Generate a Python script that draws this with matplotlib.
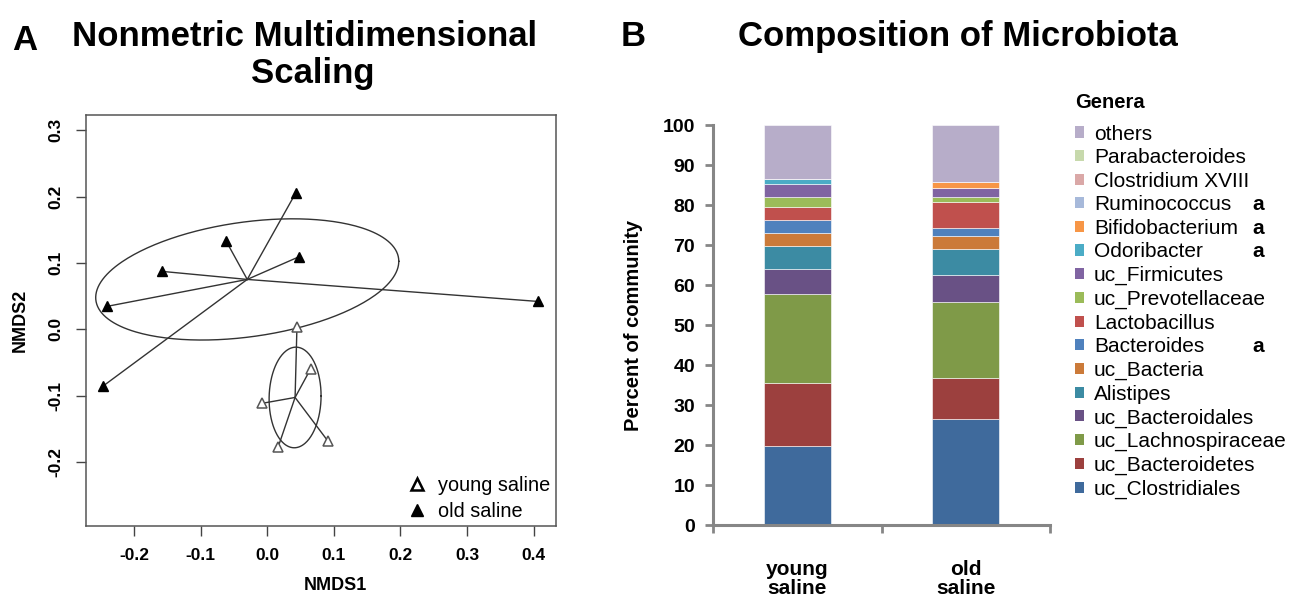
import numpy as np
import matplotlib
matplotlib.use('Agg')
import matplotlib.pyplot as plt
from matplotlib.patches import Patch
from matplotlib.lines import Line2D

plt.rcParams['font.family'] = ['Liberation Sans', 'DejaVu Sans']

# ---------------- Panel A data (NMDS scores) ----------------
young_x = [0.0446, 0.065, -0.008, 0.0165, 0.091]
young_y = [0.0035, -0.0598, -0.1114, -0.1768, -0.168]
old_x = [0.0426, -0.062, 0.047, -0.158, -0.2407, 0.407, -0.246]
old_y = [0.205, 0.1334, 0.109, 0.0873, 0.0346, 0.042, -0.085]
nmds_xticks = [-0.2, -0.1, 0.0, 0.1, 0.2, 0.3, 0.4]
nmds_yticks = [-0.2, -0.1, 0.0, 0.1, 0.2, 0.3]
group_labels = ['young saline', 'old saline']

# ---------------- Panel B data (percent of community) ----------------
groups = ['young\nsaline', 'old\nsaline']
genera = ['uc_Clostridiales', 'uc_Bacteroidetes', 'uc_Lachnospiraceae',
          'uc_Bacteroidales', 'Alistipes', 'uc_Bacteria', 'Bacteroides',
          'Lactobacillus', 'uc_Prevotellaceae', 'uc_Firmicutes', 'Odoribacter',
          'Bifidobacterium', 'Ruminococcus', 'Clostridium XVIII',
          'Parabacteroides', 'others']
young_pct = [19.7, 15.9, 22.2, 6.2, 5.7, 3.2, 3.3, 3.2, 2.7, 3.2, 1.2,
             0.0, 0.0, 0.0, 0.0, 13.5]
old_pct = [26.4, 10.4, 19.0, 6.8, 6.5, 3.2, 2.0, 6.45, 1.35, 2.15, 0.0,
           1.6, 0.0, 0.0, 0.0, 14.15]
genus_colors = ['#3F6A9C', '#9C403E', '#7F9A48', '#695185', '#3C8BA3',
                '#CB7A39', '#4F81BD', '#C0504D', '#9BBB59', '#8064A2',
                '#4BACC6', '#F79646', '#A7B9DA', '#DAA8A7', '#C7D9AC',
                '#B7ADC9']
sig_genera = ['Ruminococcus', 'Bifidobacterium', 'Odoribacter', 'Bacteroides']
pct_ticks = list(range(0, 101, 10))

W, H = 1299, 602
fig = plt.figure(figsize=(W / 100, H / 100), dpi=100)


def fx(px):
    return px / W


def fy(py):
    return 1 - py / H


# ================= Panel A =================
axA = fig.add_axes([fx(86), fy(526), fx(555.7) - fx(86), fy(115) - fy(526)])
line_col = '#333333'
for xs, ys, filled in [(old_x, old_y, True), (young_x, young_y, False)]:
    xs = np.asarray(xs)
    ys = np.asarray(ys)
    cx, cy = xs.mean(), ys.mean()
    for xi, yi in zip(xs, ys):
        axA.plot([cx, xi], [cy, yi], color=line_col, lw=1.0, zorder=2)
    cov = np.cov(np.vstack([xs, ys]))
    L = np.linalg.cholesky(cov)
    t = np.linspace(0, 2 * np.pi, 300)
    ell = L @ np.vstack([np.cos(t), np.sin(t)])
    axA.plot(cx + ell[0], cy + ell[1], color=line_col, lw=1.0, zorder=2)
    if filled:
        axA.plot(xs, ys, linestyle='none', marker='^', ms=7.5,
                 mfc='black', mec='black', zorder=3)
    else:
        axA.plot(xs, ys, linestyle='none', marker='^', ms=7.5,
                 mfc='white', mec='#555555', mew=1.1, zorder=3)

xmin, xmax = min(old_x + young_x), max(old_x + young_x)
rx = xmax - xmin
axA.set_xlim(xmin - 0.04 * rx, xmax + 0.04 * rx)
axA.set_ylim(-0.296, 0.3227)
axA.set_xticks(nmds_xticks)
axA.set_yticks(nmds_yticks)
axA.set_xticklabels(['%.1f' % v for v in nmds_xticks], fontweight='bold', fontsize=12.5)
axA.set_yticklabels(['%.1f' % v for v in nmds_yticks], fontweight='bold', fontsize=12.5,
                    rotation=90, va='center')
axA.tick_params(axis='both', direction='out', length=7.2, width=1, color='#444444')
axA.tick_params(axis='x', pad=9)
axA.tick_params(axis='y', pad=9)
for s in axA.spines.values():
    s.set_color('#555555')
    s.set_linewidth(1.1)
fig.text(fx(335), fy(585), 'NMDS1', ha='center', va='center', fontweight='bold', fontsize=13)
fig.text(fx(20), fy(320), 'NMDS2', ha='center', va='center', fontweight='bold',
         fontsize=13, rotation=90)

handlesA = [Line2D([], [], linestyle='none', marker='^', ms=9, mfc='white', mec='black', mew=1.8),
            Line2D([], [], linestyle='none', marker='^', ms=8, mfc='black', mec='black')]
axA.legend(handlesA, group_labels, loc='lower right', frameon=False, fontsize=14.3,
           handlelength=1.0, handletextpad=0.55, labelspacing=0.35,
           borderaxespad=0.0, bbox_to_anchor=(1.006, -0.006))

fig.text(fx(12), fy(50), 'A', ha='left', va='baseline', fontweight='bold', fontsize=25)
fig.text(fx(305), fy(46), 'Nonmetric Multidimensional', ha='center', va='baseline',
         fontweight='bold', fontsize=25)
fig.text(fx(313), fy(83), 'Scaling', ha='center', va='baseline',
         fontweight='bold', fontsize=25)

# ================= Panel B =================
axB = fig.add_axes([fx(713), fy(525), fx(1050) - fx(713), fy(125) - fy(525)])
xpos = np.arange(len(groups))
bottom = np.zeros(len(groups))
handlesB = []
for g, yv, ov, col in zip(genera, young_pct, old_pct, genus_colors):
    vals = np.array([yv, ov])
    axB.bar(xpos, vals, width=0.4, bottom=bottom, color=col,
            edgecolor='white', linewidth=0.4, zorder=2)
    bottom = bottom + vals
    handlesB.append(Patch(facecolor=col, edgecolor='none'))

axB.set_xlim(-0.5, 1.5)
axB.set_ylim(0, 100)
axB.set_yticks(pct_ticks)
axB.set_yticklabels([str(v) for v in pct_ticks], fontweight='bold', fontsize=14)
axB.set_xticks(xpos)
axB.set_xticklabels(groups, fontweight='bold', fontsize=15, linespacing=1.05)
axB.set_xticks([-0.5, 0.5, 1.5], minor=True)
axB.tick_params(axis='x', which='major', length=0, pad=25)
axB.tick_params(axis='x', which='minor', direction='out', length=6, width=2, color='#868686')
axB.tick_params(axis='y', direction='out', length=6, width=2, color='#868686', pad=7)
for side in ['top', 'right']:
    axB.spines[side].set_visible(False)
for side in ['left', 'bottom']:
    axB.spines[side].set_color('#868686')
    axB.spines[side].set_linewidth(2.2)
axB.set_ylabel('Percent of community', fontweight='bold', fontsize=14.5, labelpad=14)

leg = axB.legend(handlesB[::-1], genera[::-1], loc='upper left',
                 bbox_to_anchor=(fx(1075), fy(93)), bbox_transform=fig.transFigure,
                 frameon=False, fontsize=15, title='Genera',
                 title_fontproperties={'weight': 'bold', 'size': 14.5},
                 alignment='left', handlelength=0.45, handleheight=0.45,
                 handletextpad=0.45, labelspacing=0.22, borderpad=0, borderaxespad=0)
leg._legend_box.sep = 9

fig.text(fx(621), fy(46), 'B', ha='left', va='baseline', fontweight='bold', fontsize=25)
fig.text(fx(958), fy(46), 'Composition of Microbiota', ha='center', va='baseline',
         fontweight='bold', fontsize=25)

# significance marks aligned with legend rows
fig.canvas.draw()
inv = fig.transFigure.inverted()
for txt in leg.get_texts():
    if txt.get_text() in sig_genera:
        bb = txt.get_window_extent()
        yc = inv.transform((0, (bb.y0 + bb.y1) / 2))[1]
        fig.text(fx(1258), yc, 'a', ha='center', va='center', fontweight='bold', fontsize=15)

fig.savefig('out.png', dpi=100)
